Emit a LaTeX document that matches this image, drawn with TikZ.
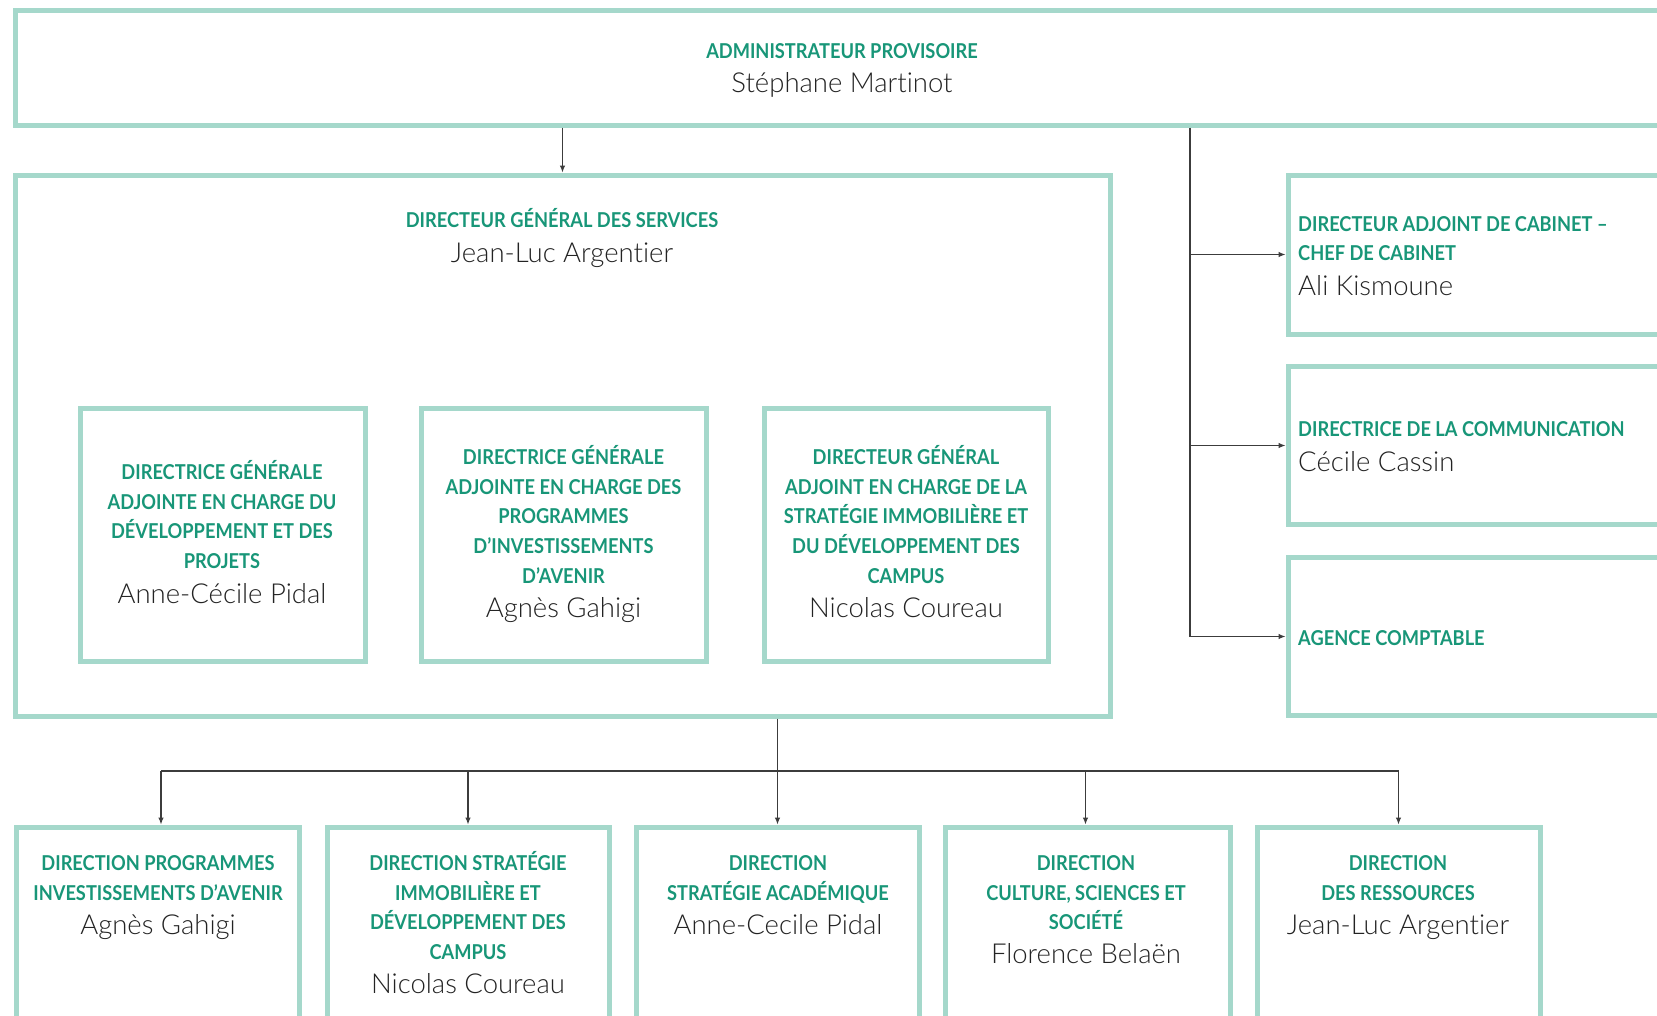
\documentclass[tikz,border=0pt]{standalone}
\usepackage{fontspec}
\usetikzlibrary{arrows.meta}
\newfontfamily\ttlfont[FakeStretch=0.89]{Lato}
\newfontfamily\nmfont[Ligatures=NoCommon]{Lato Light}
\definecolor{tgreen}{RGB}{24,150,120}
\definecolor{bgreen}{RGB}{165,216,203}
\definecolor{lgray}{RGB}{60,60,60}
\definecolor{ngray}{RGB}{35,35,35}
\tikzset{
  orgbox/.style={draw=bgreen, line width=5pt, inner sep=0pt},
  ttl/.style={anchor=base, text=tgreen, font=\ttlfont\bfseries\fontsize{20.5}{24}\selectfont, inner sep=0pt},
  ttlL/.style={ttl, anchor=base west},
  nm/.style={anchor=base, text=ngray, font=\nmfont\fontsize{27.5}{32}\selectfont, inner sep=0pt},
  nmL/.style={nm, anchor=base west},
  conn/.style={draw=lgray, line width=1.1pt},
  arr/.style={conn, -{Latex[length=7pt,width=5.5pt]}},
}
\newcommand\mkbox[5]{\node[orgbox, minimum width={#4-#2}, minimum height={#5-#3}] (#1) at ({(#2+#4)/2},{(#3+#5)/2}) {};}
\begin{document}
\begin{tikzpicture}[x=1pt,y=-1pt]
\useasboundingbox (0,0) rectangle (1657,1015);
\clip (0,0) rectangle (1657,1015);
\fill[white] (0,0) rectangle (1657,1015);
% boxes
\mkbox{top}{15}{10}{1690}{125}
\mkbox{dgs}{15}{175}{1110}{716}
\mkbox{ia}{80}{408}{365}{661}
\mkbox{ib}{421}{408}{706}{661}
\mkbox{ic}{764}{408}{1048}{661}
\mkbox{ra}{1288}{175}{1700}{334}
\mkbox{rb}{1288}{366.5}{1700}{524.5}
\mkbox{rc}{1288}{557.5}{1700}{715.5}
\mkbox{ba}{16}{827}{299}{1040}
\mkbox{bb}{327}{827}{609}{1040}
\mkbox{bc}{636}{827}{919}{1040}
\mkbox{bd}{945}{827}{1230}{1040}
\mkbox{be}{1257}{827}{1540}{1040}
% texts: top
\node[ttl] (t1) at (842,58) {ADMINISTRATEUR PROVISOIRE};
\node[nm] (n1) at (842,92) {Stéphane Martinot};
% dgs
\node[ttl] (t2) at (562,227) {DIRECTEUR GÉNÉRAL DES SERVICES};
\node[nm] (n2) at (562,262) {Jean-Luc Argentier};
% inner a
\node[ttl] (ia1) at (222,479.5) {DIRECTRICE GÉNÉRALE};
\node[ttl] (ia2) at (222,509) {ADJOINTE EN CHARGE DU};
\node[ttl] (ia3) at (222,538.6) {DÉVELOPPEMENT ET DES};
\node[ttl] (ia4) at (222,568.2) {PROJETS};
\node[nm] (ian) at (222,603) {Anne-Cécile Pidal};
% inner b
\node[ttl] (ib1) at (563.5,464.6) {DIRECTRICE GÉNÉRALE};
\node[ttl] (ib2) at (563.5,494.2) {ADJOINTE EN CHARGE DES};
\node[ttl] (ib3) at (563.5,523.8) {PROGRAMMES};
\node[ttl] (ib4) at (563.5,553.4) {D’INVESTISSEMENTS};
\node[ttl] (ib5) at (563.5,583) {D’AVENIR};
\node[nm] (ibn) at (563.5,617) {Agnès Gahigi};
% inner c
\node[ttl] (ic1) at (906,464.6) {DIRECTEUR GÉNÉRAL};
\node[ttl] (ic2) at (906,494.2) {ADJOINT EN CHARGE DE LA};
\node[ttl] (ic3) at (906,523.8) {STRATÉGIE IMMOBILIÈRE ET};
\node[ttl] (ic4) at (906,553.4) {DU DÉVELOPPEMENT DES};
\node[ttl] (ic5) at (906,583) {CAMPUS};
\node[nm] (icn) at (906,617) {Nicolas Coureau};
% right boxes
\node[ttlL] (ra1) at (1298,231) {DIRECTEUR ADJOINT DE CABINET –};
\node[ttlL] (ra2) at (1298,260) {CHEF DE CABINET};
\node[nmL] (ran) at (1298,295) {Ali Kismoune};
\node[ttlL] (rb1) at (1298,436) {DIRECTRICE DE LA COMMUNICATION};
\node[nmL] (rbn) at (1298,471) {Cécile Cassin};
\node[ttlL] (rc1) at (1298,645) {AGENCE COMPTABLE};
% bottom boxes
\node[ttl] (ba1) at (158,870.4) {DIRECTION PROGRAMMES};
\node[ttl] (ba2) at (158,900) {INVESTISSEMENTS D’AVENIR};
\node[nm] (ban) at (158,934) {Agnès Gahigi};
\node[ttl] (bb1) at (468,870.4) {DIRECTION STRATÉGIE};
\node[ttl] (bb2) at (468,900) {IMMOBILIÈRE ET};
\node[ttl] (bb3) at (468,929.6) {DÉVELOPPEMENT DES};
\node[ttl] (bb4) at (468,959.2) {CAMPUS};
\node[nm] (bbn) at (468,993) {Nicolas Coureau};
\node[ttl] (bc1) at (778,870.4) {DIRECTION};
\node[ttl] (bc2) at (778,900) {STRATÉGIE ACADÉMIQUE};
\node[nm] (bcn) at (778,934) {Anne-Cecile Pidal};
\node[ttl] (bd1) at (1086,870.4) {DIRECTION};
\node[ttl] (bd2) at (1086,900) {CULTURE, SCIENCES ET};
\node[ttl] (bd3) at (1086,929.6) {SOCIÉTÉ};
\node[nm] (bdn) at (1086,963.5) {Florence Belaën};
\node[ttl] (be1) at (1398,870.4) {DIRECTION};
\node[ttl] (be2) at (1398,900) {DES RESSOURCES};
\node[nm] (ben) at (1398,934) {Jean-Luc Argentier};
% connectors
\draw[arr] (dgs.north |- top.south) -- (dgs.north);
\coordinate (rbus) at (1190,0);
\draw[conn] (rbus |- top.south) -- (rbus |- rc.west);
\draw[arr] (rbus |- ra.west) -- (ra.west);
\draw[arr] (rbus |- rb.west) -- (rb.west);
\draw[arr] (rbus |- rc.west) -- (rc.west);
\coordinate (bus) at (0,771);
\coordinate (pa) at ([xshift=3.5pt]ba.north);
\coordinate (pd) at ([xshift=-2pt]bd.north);
\draw[conn] (pa |- bus) -- (be.north |- bus);
\draw[arr] (bc.north |- dgs.south) -- (bc.north);
\draw[arr] (pa |- bus) -- (pa);
\draw[arr] (bb.north |- bus) -- (bb.north);
\draw[arr] (pd |- bus) -- (pd);
\draw[arr] (be.north |- bus) -- (be.north);
\end{tikzpicture}
\end{document}
